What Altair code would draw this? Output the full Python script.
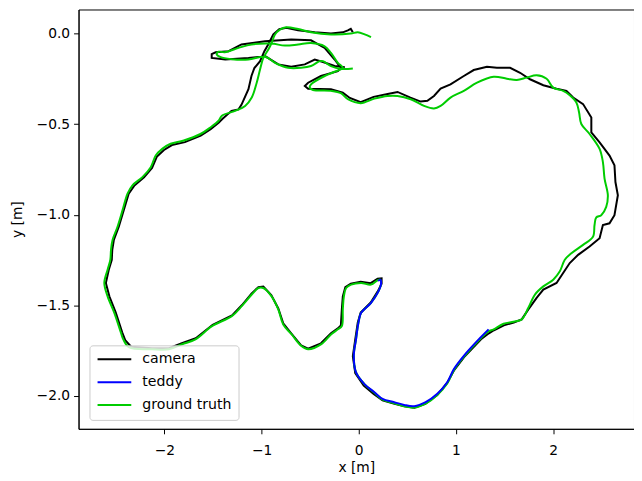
import altair as alt
import pandas as pd

# ground truth trajectory (x, y in metres)
gt_x = [-0.061, -0.184, -0.286, -0.368, -0.402, -0.491, -0.593, -0.726, -0.862, -0.964,
        -1.135, -1.309, -1.421, -1.462, -1.442, -1.380, -1.237, -1.104, -0.900, -0.760,
        -0.624, -0.491, -0.351, -0.286, -0.215, -0.164, -0.256, -0.351, -0.491, -0.504,
        -0.470, -0.286, -0.184, -0.112, 0.020, 0.161, 0.297, 0.399, 0.535, 0.672,
        0.774, 0.842, 0.944, 1.081, 1.217, 1.388, 1.524, 1.626, 1.728, 1.830,
        1.933, 2.001, 2.103, 2.171, 2.239, 2.267, 2.290, 2.375, 2.478, 2.512,
        2.529, 2.563, 2.546, 2.495, 2.444, 2.426, 2.410, 2.308, 2.188, 2.120,
        2.069, 2.001, 1.899, 1.813, 1.745, 1.677, 1.592, 1.490, 1.388, 1.330,
        1.251, 1.081, 0.979, 0.910, 0.808, 0.688, 0.570, 0.467, 0.365, 0.245,
        0.161, 0.058, -0.028, -0.051, -0.028, -0.003, 0.024, 0.126, 0.194, 0.228,
        0.222, 0.194, 0.126, 0.024, -0.079, -0.130, -0.153, -0.164, -0.174, -0.215,
        -0.283, -0.385, -0.521, -0.590, -0.692, -0.777, -0.828, -0.897, -0.982, -1.033,
        -1.101, -1.204, -1.306, -1.510, -1.680, -1.817, -1.953, -2.124, -2.362, -2.423,
        -2.447, -2.515, -2.584, -2.618, -2.584, -2.556, -2.549, -2.533, -2.482, -2.430,
        -2.379, -2.328, -2.226, -2.140, -2.089, -2.022, -1.936, -1.800, -1.629, -1.527,
        -1.442, -1.408, -1.271, -1.169, -1.101, -1.050, -1.015, -0.982, -0.930, -0.897,
        -0.862, -0.811, -0.746, -0.624, -0.491, -0.286, -0.082, -0.010, 0.061, 0.126]
gt_y = [-0.192, -0.194, -0.179, -0.152, -0.152, -0.179, -0.189, -0.189, -0.161, -0.128,
        -0.143, -0.141, -0.130, -0.113, -0.100, -0.103, -0.079, -0.060, -0.055, -0.066,
        -0.060, -0.052, -0.070, -0.106, -0.161, -0.189, -0.212, -0.234, -0.280, -0.298,
        -0.311, -0.316, -0.329, -0.362, -0.384, -0.359, -0.344, -0.344, -0.362, -0.399,
        -0.413, -0.399, -0.353, -0.316, -0.271, -0.238, -0.249, -0.256, -0.243, -0.230,
        -0.249, -0.298, -0.316, -0.340, -0.380, -0.435, -0.499, -0.554, -0.636, -0.709,
        -0.800, -0.892, -0.956, -1.002, -1.014, -1.056, -1.121, -1.166, -1.212, -1.248,
        -1.312, -1.358, -1.395, -1.440, -1.513, -1.577, -1.590, -1.601, -1.632, -1.645,
        -1.684, -1.784, -1.857, -1.930, -1.994, -2.042, -2.064, -2.057, -2.040, -2.020,
        -1.982, -1.934, -1.870, -1.778, -1.687, -1.595, -1.541, -1.486, -1.431, -1.385,
        -1.358, -1.361, -1.385, -1.376, -1.385, -1.404, -1.450, -1.522, -1.614, -1.632,
        -1.659, -1.714, -1.742, -1.724, -1.659, -1.605, -1.522, -1.450, -1.404, -1.404,
        -1.440, -1.504, -1.559, -1.614, -1.687, -1.714, -1.742, -1.742, -1.732, -1.687,
        -1.650, -1.541, -1.450, -1.376, -1.303, -1.248, -1.193, -1.139, -1.066, -0.974,
        -0.883, -0.837, -0.792, -0.737, -0.673, -0.636, -0.608, -0.590, -0.554, -0.518,
        -0.481, -0.453, -0.426, -0.399, -0.353, -0.271, -0.197, -0.134, -0.088, -0.052,
        -0.005, 0.022, 0.035, 0.025, 0.007, -0.005, 0.000, 0.007, -0.004, -0.019]

# camera trajectory
cam_x = [-0.143, -0.248, -0.368, -0.453, -0.555, -0.695, -0.828, -0.964, -1.135, -1.373,
         -1.513, -1.513, -1.472, -1.339, -1.207, -0.964, -0.695, -0.491, -0.351, -0.248,
         -0.184, -0.215, -0.389, -0.521, -0.555, -0.521, -0.286, -0.164, -0.092, 0.020,
         0.153, 0.297, 0.399, 0.532, 0.637, 0.706, 0.774, 0.842, 0.944, 1.081,
         1.183, 1.319, 1.421, 1.557, 1.660, 1.762, 1.899, 2.035, 2.137, 2.206,
         2.308, 2.393, 2.393, 2.478, 2.580, 2.631, 2.641, 2.666, 2.631, 2.580,
         2.512, 2.478, 2.375, 2.257, 2.171, 2.103, 2.035, 1.899, 1.830, 1.745,
         1.677, 1.595, 1.493, 1.391, 1.339, 1.258, 1.084, 0.982, 0.910, 0.808,
         0.685, 0.573, 0.470, 0.368, 0.245, 0.153, 0.051, -0.036, -0.061, -0.036,
         -0.010, 0.020, 0.123, 0.194, 0.235, 0.235, 0.194, 0.123, 0.020, -0.082,
         -0.138, -0.164, -0.174, -0.184, -0.215, -0.286, -0.389, -0.521, -0.593, -0.695,
         -0.777, -0.828, -0.900, -0.982, -1.033, -1.104, -1.201, -1.299, -1.503, -1.677,
         -1.820, -1.953, -2.127, -2.342, -2.403, -2.434, -2.500, -2.566, -2.602, -2.572,
         -2.541, -2.536, -2.520, -2.469, -2.418, -2.367, -2.311, -2.209, -2.127, -2.076,
         -2.004, -1.922, -1.789, -1.626, -1.524, -1.442, -1.401, -1.309, -1.237, -1.207,
         -1.135, -1.104, -1.074, -1.015, -0.971, -0.930, -0.879, -0.818, -0.746, -0.624,
         -0.453, -0.286, -0.164, -0.112, -0.082, -0.061]
cam_y = [-0.185, -0.179, -0.157, -0.143, -0.170, -0.183, -0.170, -0.124, -0.135, -0.143,
         -0.134, -0.113, -0.103, -0.097, -0.060, -0.042, -0.033, -0.037, -0.079, -0.143,
         -0.189, -0.207, -0.234, -0.271, -0.289, -0.304, -0.307, -0.326, -0.355, -0.379,
         -0.349, -0.333, -0.322, -0.353, -0.375, -0.371, -0.344, -0.304, -0.280, -0.234,
         -0.201, -0.183, -0.189, -0.189, -0.216, -0.252, -0.285, -0.304, -0.316, -0.353,
         -0.389, -0.463, -0.545, -0.600, -0.673, -0.727, -0.819, -0.892, -1.002, -1.047,
         -1.056, -1.129, -1.175, -1.221, -1.266, -1.321, -1.376, -1.413, -1.458, -1.522,
         -1.577, -1.594, -1.610, -1.637, -1.654, -1.687, -1.785, -1.857, -1.928, -1.994,
         -2.043, -2.065, -2.057, -2.043, -2.024, -1.988, -1.942, -1.873, -1.780, -1.687,
         -1.594, -1.539, -1.484, -1.424, -1.380, -1.350, -1.352, -1.377, -1.369, -1.380,
         -1.399, -1.450, -1.522, -1.610, -1.627, -1.654, -1.709, -1.739, -1.720, -1.654,
         -1.599, -1.517, -1.443, -1.396, -1.399, -1.435, -1.498, -1.553, -1.607, -1.681,
         -1.709, -1.736, -1.736, -1.728, -1.692, -1.648, -1.539, -1.450, -1.376, -1.303,
         -1.248, -1.193, -1.139, -1.066, -0.974, -0.883, -0.840, -0.793, -0.741, -0.678,
         -0.642, -0.615, -0.599, -0.563, -0.527, -0.492, -0.470, -0.426, -0.418, -0.393,
         -0.307, -0.234, -0.190, -0.152, -0.097, -0.059, -0.004, 0.024, 0.032, 0.018,
         0.007, 0.000, 0.007, 0.018, 0.026, 0.007]

# teddy trajectory (partial)
ted_x = [1.336, 1.251, 1.081, 0.979, 0.910, 0.808, 0.688, 0.570, 0.467, 0.365,
         0.245, 0.161, 0.058, -0.028, -0.051, -0.028, -0.003, 0.024, 0.126, 0.194,
         0.228, 0.222, 0.200]
ted_y = [-1.632, -1.678, -1.778, -1.851, -1.924, -1.988, -2.034, -2.056, -2.049, -2.034,
         -2.016, -1.979, -1.934, -1.870, -1.778, -1.687, -1.595, -1.541, -1.486, -1.431,
         -1.385, -1.358, -1.365]

series_names = ["camera", "teddy", "ground truth"]
series_colors = ["#000000", "#0000ff", "#00cc00"]

x_ticks = [-2, -1, 0, 1, 2]
y_ticks = [0.0, -0.5, -1.0, -1.5, -2.0]


def frame(xs, ys, name):
    return pd.DataFrame({"x": xs, "y": ys, "i": list(range(len(xs))), "series": name})


df_cam = frame(cam_x, cam_y, "camera")
df_gt = frame(gt_x, gt_y, "ground truth")
df_ted = frame(ted_x, ted_y, "teddy")

xscale = alt.Scale(domain=[-2.883, 2.832], nice=False, zero=False)
yscale = alt.Scale(domain=[-2.181, 0.133], nice=False, zero=False)
color = alt.Color(
    "series:N",
    scale=alt.Scale(domain=series_names, range=series_colors),
    legend=alt.Legend(
        title=None,
        orient="none",
        legendX=11,
        legendY=338,
        symbolType="M-3,0L3,0",
        symbolSize=128,
        symbolStrokeWidth=2,
        symbolOffset=11,
        labelFontSize=14.2,
        labelFont="DejaVu Sans",
        labelColor="black",
        labelOffset=21,
        rowPadding=8,
        padding=7,
        strokeColor="#cccccc",
        fillColor="rgba(255,255,255,0.8)",
        cornerRadius=3,
    ),
)


def layer(df, interp):
    return alt.Chart(df).mark_line(strokeWidth=2, clip=True, interpolate=interp).encode(
        x=alt.X("x:Q", scale=xscale,
                axis=alt.Axis(title="x [m]", values=x_ticks, format="d",
                              labelPadding=10, titlePadding=3,
                              labelExpr="replace(datum.label, '-', '\u2212')")),
        y=alt.Y("y:Q", scale=yscale,
                axis=alt.Axis(title="y [m]", values=y_ticks, format=".1f",
                              labelPadding=4, titlePadding=12,
                              labelExpr="replace(datum.label, '-', '\u2212')")),
        color=color,
        order="i:Q",
    )


chart = alt.layer(layer(df_cam, "linear"), layer(df_gt, "catmull-rom"),
                  layer(df_ted, "catmull-rom")).properties(
    width=559,
    height=422,
    autosize=alt.AutoSizeParams(type="none"),
    padding={"left": 71, "top": 0, "right": 0, "bottom": 51},
).configure_view(
    stroke="black", strokeWidth=1
).configure_axis(
    grid=False,
    domainColor="black",
    tickColor="black",
    tickSize=5,
    labelFontSize=13.9,
    titleFontSize=13.9,
    titleFontWeight="normal",
    labelFont="DejaVu Sans",
    titleFont="DejaVu Sans",
    labelColor="black",
    titleColor="black",
)

chart.save("out.html", embed_options={"renderer": "svg", "actions": False})
